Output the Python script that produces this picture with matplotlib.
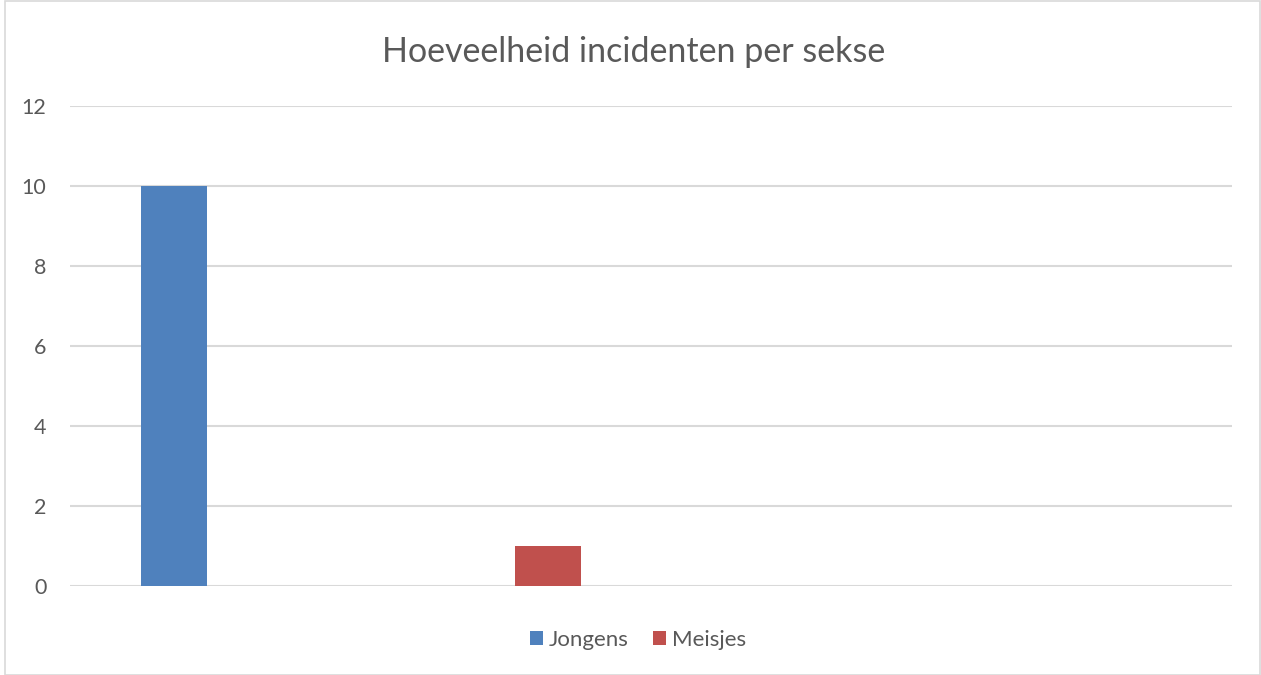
import matplotlib
matplotlib.use("Agg")
import matplotlib.pyplot as plt
from matplotlib.patches import Rectangle, Patch
import numpy as np

title = "Hoeveelheid incidenten per sekse"
series = ["Jongens", "Meisjes"]
values = [10, 1]
colors = ["#4F81BD", "#C0504D"]
yticks = [0, 2, 4, 6, 8, 10, 12]

plt.rcParams['font.family'] = ['Lato', 'DejaVu Sans']

W, H = 1261, 675
fig = plt.figure(figsize=(W / 100, H / 100), dpi=100)
fig.patch.set_facecolor("white")
fig.add_artist(Rectangle((5 / W, 0), (1255 / W), 1 - 1 / H, transform=fig.transFigure,
                         fill=False, edgecolor="#d9d9d9", linewidth=1.2))

ax = fig.add_axes([70 / W, 89 / H, (1232 - 70) / W, (586 - 106) / H])
x = np.arange(len(series))
bw = 66 / 374
for xi, v, c, s in zip(x, values, colors, series):
    ax.bar(xi, v, width=bw, color=c, label=s, zorder=3)

ax.set_xlim(-(174 - 70) / 374, 1 + (1232 - 548) / 374)
ax.set_ylim(0, 12)
ax.set_yticks(yticks)
ax.set_yticklabels([str(t) for t in yticks])
ax.set_xticks([])
ax.grid(axis="y", color="#d9d9d9", linewidth=1.5, zorder=0)
for sp in ax.spines.values():
    sp.set_visible(False)
ax.tick_params(axis="y", length=0, pad=17, labelsize=15.5, labelcolor="#595959")

fig.text(634 / W, 1 - 52 / H, title, ha="center", va="center", fontsize=24.5, color="#595959")

handles = [Patch(facecolor=c, label=s) for c, s in zip(colors, series)]
fig.legend(handles=handles, loc="center", bbox_to_anchor=(638 / W, 1 - 640 / H), ncol=2,
           frameon=False, fontsize=16, labelcolor="#595959", handlelength=0.6, handleheight=0.6,
           handletextpad=0.25, columnspacing=1.1)

fig.savefig("out.png", dpi=100)
